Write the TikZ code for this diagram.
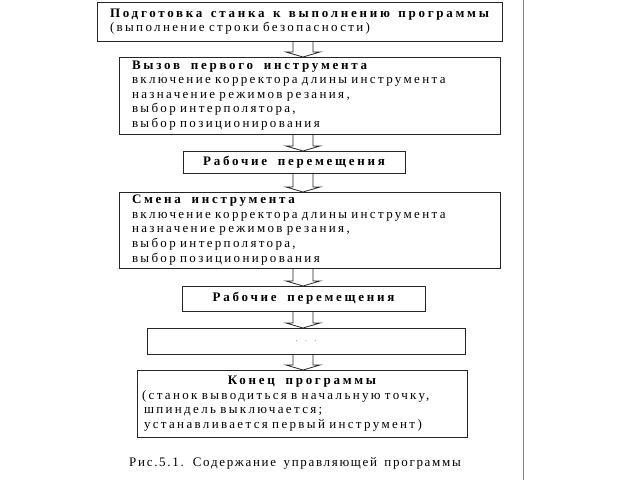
\documentclass[tikz,border=0pt]{standalone}
\usepackage{fontspec}
\setmainfont{Liberation Serif}[LetterSpace=18,WordSpace=1.8]
\newfontfamily\bfam{Liberation Serif}[UprightFont={* Bold},LetterSpace=21,WordSpace=1.8]
\newfontfamily\capfont{Liberation Serif}[LetterSpace=13,WordSpace=1.5]
\newcommand\tb[1]{{\bfam\spaceskip=0pt\xspaceskip=0pt #1}}
\usetikzlibrary{calc}
\newcommand\barrow[2]{%
  \path (ax |- #1.south) coordinate (at) (ax |- #2.north) coordinate (ab);
  \draw[arrowst] ($(at)+(-10,0)$) -- ($(ab)+(-10,-5)$) -- ($(ab)+(-17,-5)$) -- (ab)
    -- ($(ab)+(17,-5)$) -- ($(ab)+(10,-5)$) -- ($(at)+(10,0)$);}
\begin{document}
\begin{tikzpicture}[x=1pt,y=-1pt,
  box/.style={draw=black!85, line width=0.9pt, fill=white, inner sep=0pt, outer sep=0pt,
    anchor=north west, font=\fontsize{13}{14.6}\selectfont},
  arrowst/.style={draw=black!85, line width=0.8pt},
  ]
\useasboundingbox (0,0) rectangle (640,480);
\coordinate (ax) at (303,0);
\node[box, minimum width=405pt, minimum height=39pt, text width=379pt, align=left] (b1) at (97,2)
  {\tb{Подготовка станка к выполнению программы}\\(выполнение строки безопасности)};
\node[box, minimum width=381pt, minimum height=77pt, text width=355pt, align=left] (b2) at (119,57)
  {\tb{Вызов первого инструмента}\\включение корректора длины инструмента\\назначение режимов резания,\\выбор интерполятора,\\выбор позиционирования};
\node[box, minimum width=222pt, minimum height=22pt, align=center] (b3) at (183,151)
  {\tb{Рабочие перемещения}};
\node[box, minimum width=381pt, minimum height=76pt, text width=355pt, align=left] (b4) at (119,192)
  {\tb{Смена инструмента}\\включение корректора длины инструмента\\назначение режимов резания,\\выбор интерполятора,\\выбор позиционирования};
\node[box, minimum width=243pt, minimum height=25pt, align=center] (b5) at (182,286)
  {\tb{Рабочие перемещения}};
\node[box, minimum width=318pt, minimum height=26pt, align=center] (b6) at (147,328)
  {\textcolor{black!60}{\fontsize{8}{9}\selectfont . . .}};
\node[box, minimum width=330pt, minimum height=67pt, text width=320pt, align=left] (b7) at (137,370)
  {\makebox[\hsize][c]{\tb{Конец программы}}\\(станок выводиться в начальную точку,\\\hspace*{2pt}шпиндель выключается;\\\hspace*{2pt}устанавливается первый инструмент)};
\node[font=\capfont\fontsize{13}{14}\selectfont] (cap) at (295,463) {Рис.5.1. Содержание управляющей программы};
\barrow{b1}{b2}
\barrow{b2}{b3}
\barrow{b3}{b4}
\barrow{b4}{b5}
\barrow{b5}{b6}
\barrow{b6}{b7}
\coordinate (g1) at (523,0);
\coordinate (g2) at (523,480);
\draw[black!50, line width=1pt] (g1) -- (g2);
\end{tikzpicture}
\end{document}
